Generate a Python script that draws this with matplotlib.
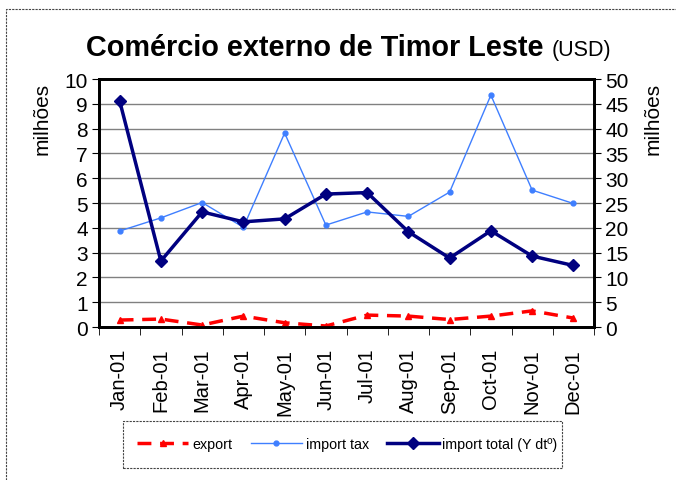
import numpy as np
import matplotlib.pyplot as plt
from matplotlib.lines import Line2D
from matplotlib.patches import Rectangle

plt.rcParams['font.family'] = ['Liberation Sans', 'DejaVu Sans']

# Data (millions USD)
months = ['Jan-01', 'Feb-01', 'Mar-01', 'Apr-01', 'May-01', 'Jun-01',
          'Jul-01', 'Aug-01', 'Sep-01', 'Oct-01', 'Nov-01', 'Dec-01']
export = [0.28, 0.32, 0.08, 0.44, 0.17, 0.04, 0.48, 0.44, 0.30, 0.44, 0.65, 0.36]
import_tax = [3.87, 4.40, 5.02, 4.02, 7.82, 4.11, 4.64, 4.46, 5.44, 9.35, 5.52, 4.98]
import_total = [45.6, 13.3, 23.2, 21.2, 21.8, 26.8, 27.1, 19.2, 13.9, 19.4, 14.3, 12.4]

W, H = 676, 481
fig = plt.figure(figsize=(W / 100, H / 100), dpi=100)

# outer dashed border (only top and left edges visible)
fig.add_artist(Line2D([6 / W, 6 / W, 1], [0, 1 - 10 / H, 1 - 10 / H],
                      transform=fig.transFigure, color='#444444', lw=0.8,
                      ls=(0, (2, 1))))

ax = fig.add_axes([99 / W, 1 - 328 / H, 495 / W, 248 / H])
ax2 = ax.twinx()

x = np.arange(len(months))

ax.plot(x, export, color='#ff0000', lw=2.5, ls=(0, (4, 2.5)), marker='^',
        ms=5, label='export', zorder=3)
ax.plot(x, import_tax, color='#3f7fff', lw=1, marker='o', ms=3.5,
        label='import tax', zorder=3)
ax2.plot(x, import_total, color='#000080', lw=2.5, marker='D', ms=6,
         label='import total (Y dt\u00ba)', zorder=3)

ax.set_xlim(-0.5, 11.5)
ax.set_ylim(0, 10)
ax2.set_ylim(0, 50)
ax.set_yticks(range(0, 11))
ax2.set_yticks(range(0, 51, 5))
ax.grid(axis='y', color='#808080', lw=1)
ax.set_axisbelow(True)

ax.set_xticks(x)
ax.set_xticklabels(months, rotation=90, fontsize=14.5)
ax.set_xticks(np.arange(-0.5, 12, 1), minor=True)
ax.tick_params(axis='x', which='major', length=0, pad=15)
ax.tick_params(axis='x', which='minor', length=6, direction='out')
ax.tick_params(axis='y', labelsize=15, length=5, pad=3)
ax2.tick_params(axis='y', labelsize=15, length=5, pad=3)

for a in (ax, ax2):
    for s in a.spines.values():
        s.set_linewidth(2)

# axis titles sit at the top of the axes
fig.text(42 / W, 1 - 83 / H, 'milhões', rotation=90, fontsize=15,
         ha='center', va='top')
fig.text(653 / W, 1 - 83 / H, 'milhões', rotation=90, fontsize=15,
         ha='center', va='top')

# title
fig.text(86 / W, 1 - 56 / H, 'Comércio externo de Timor Leste',
         fontsize=20.8, fontweight='bold', ha='left', va='baseline')
fig.text(552 / W, 1 - 56 / H, '(USD)', fontsize=15.5, ha='left',
         va='baseline')

# legend box drawn by hand, entries placed inside it
fig.add_artist(Rectangle((123 / W, 1 - 469 / H), 439 / W, 47 / H,
                         transform=fig.transFigure, fill=False,
                         ec='#444444', lw=0.8, ls=(0, (2, 1))))
h1, l1 = ax.get_legend_handles_labels()
h2, l2 = ax2.get_legend_handles_labels()
leg = fig.legend(h1 + h2, l1 + l2, loc='center left',
                 bbox_to_anchor=(124 / W, 1 - 445.5 / H), ncol=3,
                 fontsize=10.3, frameon=False, handlelength=3.6,
                 columnspacing=1.3, handletextpad=0.25, borderpad=0.9,
                 borderaxespad=0)

fig.savefig('out.png', dpi=100)
